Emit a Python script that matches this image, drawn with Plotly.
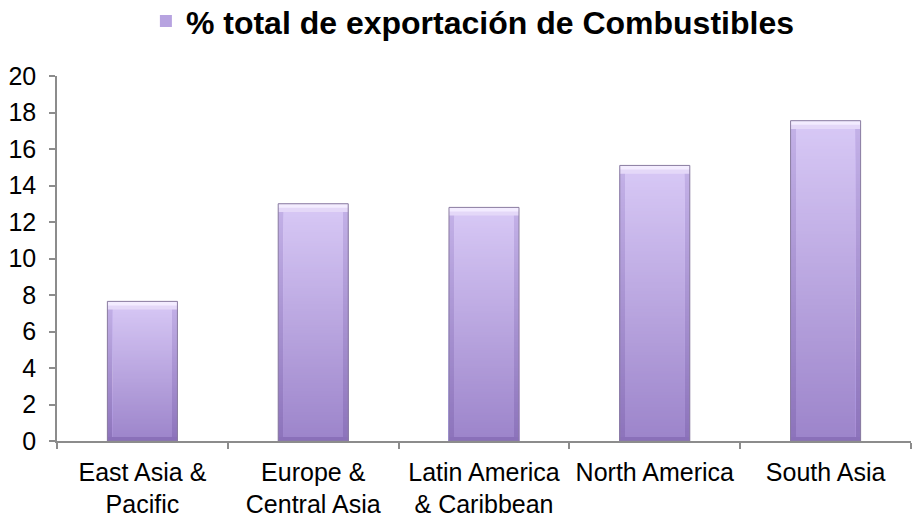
import plotly.graph_objects as go

# Fuel exports as a share of total merchandise exports, by region (%)
categories = [
    "East Asia &<br>Pacific",
    "Europe &<br>Central Asia",
    "Latin America<br>& Caribbean",
    "North America",
    "South Asia",
]
fuel_share = [7.65, 13.0, 12.8, 15.1, 17.55]
y_ticks = [0, 2, 4, 6, 8, 10, 12, 14, 16, 18, 20]
series_name = "% total de exportación de Combustibles"

FONT = "Liberation Sans, Arial, sans-serif"
AXIS_GREY = "#8c8c8c"
BAR_W = 0.41      # full bar width (category units)
CORE_W = 0.345    # inner face, leaves a bevelled edge on each side
STEPS = 90        # number of bands used for the vertical gradient


def hex_to_rgb(h):
    h = h.lstrip("#")
    return tuple(int(h[i:i + 2], 16) for i in (0, 2, 4))


def mix(c_low, c_high, t):
    a, b = hex_to_rgb(c_low), hex_to_rgb(c_high)
    r = [round(a[k] + (b[k] - a[k]) * t) for k in range(3)]
    return "rgb({},{},{})".format(*r)


def gradient_layer(fig, width, c_low, c_high):
    """Stack of ever shorter bars, light at the top and darker towards the base."""
    for k in range(STEPS, 0, -1):
        frac = k / STEPS
        t = (k - 0.5) / STEPS
        fig.add_bar(x=categories, y=[v * frac for v in fuel_share], width=width,
                    showlegend=False, hoverinfo="skip",
                    marker=dict(color=mix(c_low, c_high, t), line=dict(width=0)))


fig = go.Figure()

# Legend entry / base fill
fig.add_bar(
    x=categories, y=fuel_share, width=BAR_W, name=series_name,
    marker=dict(color="#b7a3e0", line=dict(width=0)),
    hoverinfo="skip",
)

# Bevelled side edges, then the brighter front face
gradient_layer(fig, BAR_W, "#8c73bb", "#c4b2e8")
gradient_layer(fig, CORE_W, "#9c84ca", "#d8c9f6")

# Top bevel highlight
bevel = 0.45
fig.add_bar(x=categories, y=[bevel] * len(fuel_share),
            base=[v - bevel for v in fuel_share], width=BAR_W,
            showlegend=False, hoverinfo="skip",
            marker=dict(color="#e4d8f8", line=dict(width=0)))
fig.add_bar(x=categories, y=[bevel * 0.5] * len(fuel_share),
            base=[v - bevel * 0.5 for v in fuel_share], width=BAR_W,
            showlegend=False, hoverinfo="skip",
            marker=dict(color="#f3ecff", line=dict(width=0)))

# Bottom bevel shade
fig.add_bar(x=categories, y=[0.22] * len(fuel_share), width=BAR_W,
            showlegend=False, hoverinfo="skip",
            marker=dict(color="#8a70b9", line=dict(width=0)))

# Thin outline around each bar
fig.add_bar(x=categories, y=fuel_share, width=BAR_W, showlegend=False,
            hoverinfo="skip",
            marker=dict(color="rgba(0,0,0,0)", line=dict(color="#8b7ea0", width=1)))

fig.update_layout(
    width=917, height=523,
    barmode="overlay",
    plot_bgcolor="white", paper_bgcolor="white",
    margin=dict(l=57, r=6, t=76, b=82, autoexpand=False),
    font=dict(family=FONT, size=25, color="black"),
    showlegend=True,
    legend=dict(
        orientation="h", x=0.487, xanchor="center", y=1.15, yanchor="middle",
        font=dict(family=FONT, size=32, color="black", weight="bold"),
        bgcolor="rgba(0,0,0,0)",
    ),
    xaxis=dict(
        type="category", showgrid=False, zeroline=False,
        showline=True, linecolor=AXIS_GREY, linewidth=1.5,
        ticks="outside", ticklen=6, tickcolor=AXIS_GREY, tickwidth=1.5,
        tickson="boundaries", ticklabelstandoff=8,
        tickfont=dict(family=FONT, size=25, color="black"),
    ),
    yaxis=dict(
        range=[0, 20], tickvals=y_ticks, ticktext=[str(v) for v in y_ticks],
        showgrid=False, zeroline=False,
        showline=True, linecolor=AXIS_GREY, linewidth=1.5,
        ticks="outside", ticklen=6, tickcolor=AXIS_GREY, tickwidth=1.5,
        ticklabelstandoff=8,
        tickfont=dict(family=FONT, size=25, color="black"),
    ),
)

fig.write_html("out.html")
